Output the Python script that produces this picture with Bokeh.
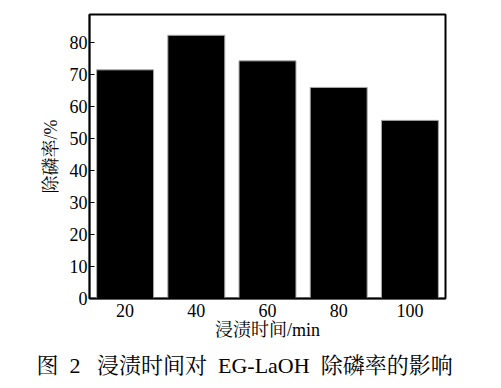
from bokeh.plotting import figure
from bokeh.embed import file_html
from bokeh.resources import INLINE
from bokeh.models import Range1d, FixedTicker, Title

times = [20, 40, 60, 80, 100]
removal = [71.5, 82.3, 74.3, 66.0, 55.7]
y_ticks = [0, 10, 20, 30, 40, 50, 60, 70, 80]

SERIF = "Liberation Serif, Noto Serif CJK SC, Noto Sans CJK SC"

p = figure(frame_width=356, frame_height=284, output_backend="svg", toolbar_location=None,
           x_range=Range1d(10, 110), y_range=Range1d(0, 88.8),
           min_border_left=89, min_border_right=40, min_border_top=14, min_border_bottom=6)

p.vbar(x=times, top=removal, width=16, fill_color="black", line_color="#aaaaaa", line_width=1)

p.grid.visible = False
p.outline_line_color = "black"
p.outline_line_width = 2

for ax in (p.xaxis, p.yaxis):
    ax.axis_line_color = "black"
    ax.axis_line_width = 1.5
    ax.major_tick_in = 5
    ax.major_tick_out = 0
    ax.minor_tick_line_color = None
    ax.major_label_text_font = SERIF
    ax.major_label_text_font_size = "18px"
    ax.major_label_text_color = "black"
    ax.axis_label_text_font = SERIF
    ax.axis_label_text_font_size = "18px"
    ax.axis_label_text_font_style = "normal"
    ax.axis_label_text_color = "black"

p.xaxis.ticker = FixedTicker(ticks=times)
p.yaxis.ticker = FixedTicker(ticks=y_ticks)
p.xaxis.axis_label = "浸渍时间/min"
p.yaxis.axis_label = "除磷率/%"
p.xaxis.major_label_standoff = 5
p.xaxis.axis_label_standoff = 0
p.yaxis.major_label_standoff = 2
p.yaxis.axis_label_standoff = 6

cap = Title(text="图\u00a0\u00a02\u00a0\u00a0\u00a0浸渍时间对\u00a0\u00a0EG-LaOH\u00a0\u00a0除磷率的影响", align="left",
            offset=-53, text_font=SERIF, text_font_size="22px", text_font_style="normal",
            text_color="black", standoff=16)
p.add_layout(cap, "below")

open("out.html", "w").write(file_html(p, INLINE))
